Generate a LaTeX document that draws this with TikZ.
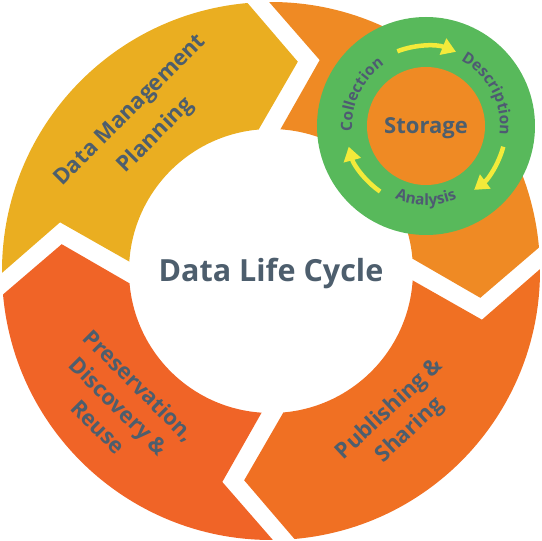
\documentclass[tikz,border=0pt]{standalone}
\usepackage{fontspec}
\setmainfont{Open Sans}
\usetikzlibrary{decorations.text,arrows.meta}
\definecolor{cyellow}{HTML}{EAAE21}
\definecolor{corange}{HTML}{EF8A24}
\definecolor{cpub}{HTML}{F07023}
\definecolor{cpres}{HTML}{F06427}
\definecolor{cgreen}{HTML}{58B95B}
\definecolor{carrow}{HTML}{F3EA3A}
\definecolor{ctext}{HTML}{4D5E6D}
\definecolor{cringtext}{HTML}{4E5A72}
\begin{document}
\begin{tikzpicture}[x=1pt,y=1pt,
  lbl/.style={text=ctext, font={\bfseries\fontsize{22}{29}\selectfont}, align=center, inner sep=0pt},
  cyc/.style={-{Triangle[length=14pt,width=17pt]}, line width=4.5pt, draw=carrow},
  ringtext/.style={decorate, decoration={text along path, text align=center, text={|\bfseries\fontsize{15.5}{15.5}\selectfont\color{cringtext}|#1}}}
]
\useasboundingbox (-271,-270) rectangle (271,271);
% ring segments: tail boundary / head boundary / colour
\foreach \bt/\bh/\col in {185/95/cyellow, 95/5/corange, 5/-85/cpub, 275/185/cpres}{
  \fill[\col] (\bt-4.6:269) arc[start angle=\bt-4.6, end angle=\bh, radius=269]
    -- (\bh-12.3:211) -- (\bh:142)
    arc[start angle=\bh, end angle=\bt-8.8, radius=142]
    -- (\bt-18:216.5) -- cycle;
}
\node[lbl, font={\bfseries\fontsize{30.5}{30.5}\selectfont}, anchor=base] (title) at (0,-11) {Data Life Cycle};
\node[lbl, rotate=45, font={\bfseries\fontsize{22}{36}\selectfont}] (dmp) at (-127.5,147.5) {Data Management\\Planning};
\node[lbl, rotate=-45] (pres) at (-152,-135) {Preservation,\\Discovery \&\\Reuse};
\node[lbl, rotate=43] (pub) at (129,-149) {Publishing \&\\Sharing};
% storage sub-cycle
\coordinate (G) at (155,145);
\fill[cgreen] (G) circle[radius=109];
\fill[corange] (G) circle[radius=59];
\node[lbl, font={\bfseries\fontsize{22}{22}\selectfont}] (stor) at (155,143) {Storage};
\path[ringtext=Collection] ([shift={(201:74)}]G) arc[start angle=201, end angle=107, radius=74];
\path[ringtext=Description] ([shift={(75:74)}]G) arc[start angle=75, end angle=-20, radius=74];
\path[ringtext=Analysis] ([shift={(225:79)}]G) arc[start angle=225, end angle=315, radius=79];
\draw[cyc] ([shift={(111:80)}]G) arc[start angle=111, end angle=68, radius=80];
\draw[cyc] ([shift={(-15:80)}]G) arc[start angle=-15, end angle=-53, radius=80];
\draw[cyc] ([shift={(235:80)}]G) arc[start angle=235, end angle=195, radius=80];
\end{tikzpicture}
\end{document}
